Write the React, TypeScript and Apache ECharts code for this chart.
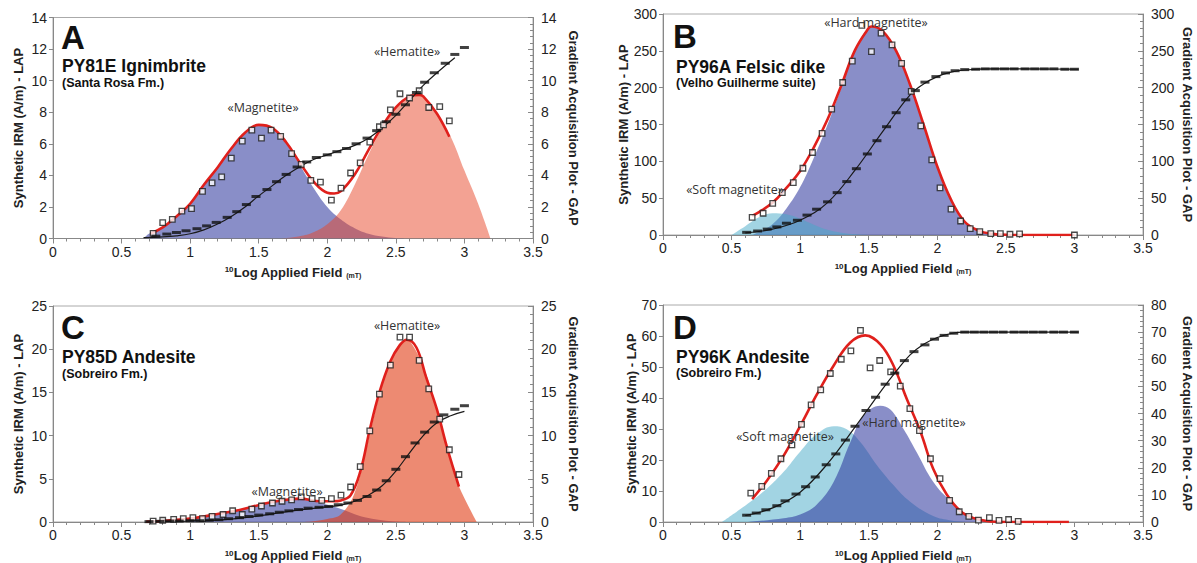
import React, { useEffect, useRef } from "react";
import * as echarts from "echarts";

// ---------- Panel A : PY81E Ignimbrite ----------
const aMagnetite = [[0.66,0],[0.7,0.3],[0.8,0.7],[0.9,1.4],[1.0,2.2],[1.1,3.4],[1.2,4.5],[1.3,5.7],[1.4,6.7],[1.5,7.2],[1.6,7.0],[1.7,6.05],[1.8,4.65],[1.9,3.2],[2.0,2.0],[2.1,1.2],[2.2,0.65],[2.3,0.3],[2.4,0.12],[2.5,0.03],[2.6,0]];
const aHematite = [[1.65,0],[1.8,0.15],[1.9,0.4],[2.0,0.9],[2.1,1.8],[2.2,3.4],[2.3,5.3],[2.4,7.0],[2.5,8.25],[2.6,8.95],[2.67,9.1],[2.7,9.0],[2.8,7.9],[2.9,6.45],[3.0,4.3],[3.1,2.2],[3.19,0]];
const aFit = [[0.71,0.3],[0.8,0.7],[0.9,1.4],[1.0,2.2],[1.1,3.4],[1.2,4.5],[1.3,5.7],[1.4,6.7],[1.5,7.2],[1.6,7.0],[1.7,6.1],[1.8,4.8],[1.9,3.6],[2.0,2.9],[2.05,2.85],[2.1,3.0],[2.2,4.05],[2.3,5.6],[2.4,7.1],[2.5,8.3],[2.6,9.0],[2.67,9.1],[2.7,9.0],[2.8,7.9],[2.89,6.45]];
const aLap = [[0.73,0.32],[0.8,1.0],[0.87,1.21],[0.94,1.74],[1.01,1.89],[1.09,2.98],[1.16,3.53],[1.23,3.91],[1.3,5.09],[1.38,6.17],[1.45,6.87],[1.52,6.36],[1.59,6.87],[1.66,6.47],[1.74,5.38],[1.81,4.7],[1.88,3.68],[1.95,3.57],[2.03,2.43],[2.1,3.19],[2.17,4.15],[2.24,4.79],[2.31,6.1],[2.38,7.08],[2.41,7.2],[2.46,8.15],[2.53,9.17],[2.6,8.9],[2.67,9.36],[2.74,8.3],[2.82,8.36],[2.89,7.45]];
const aGap = [[0.75,0.15],[0.83,0.28],[0.9,0.38],[0.97,0.49],[1.05,0.62],[1.12,0.8],[1.19,1.02],[1.27,1.34],[1.34,1.7],[1.41,2.15],[1.48,2.66],[1.56,3.1],[1.63,3.6],[1.7,4.06],[1.78,4.53],[1.85,4.85],[1.92,5.13],[2.0,5.3],[2.07,5.5],[2.14,5.7],[2.21,6.0],[2.29,6.36],[2.36,6.83],[2.43,7.4],[2.5,7.87],[2.57,8.47],[2.65,9.25],[2.71,9.9],[2.78,10.5],[2.86,11.1],[2.93,11.66],[3.0,12.1]];
const aGapFit = [[0.66,0.05],[0.8,0.1],[0.9,0.17],[1.0,0.3],[1.1,0.55],[1.2,0.92],[1.3,1.4],[1.4,2.0],[1.5,2.7],[1.6,3.35],[1.7,4.0],[1.8,4.55],[1.9,5.0],[2.0,5.3],[2.1,5.6],[2.2,5.9],[2.3,6.35],[2.4,7.0],[2.5,7.8],[2.6,8.75],[2.7,9.7],[2.8,10.5],[2.93,11.45]];

// ---------- Panel B : PY96A Felsic dike ----------
const bSoft = [[0.5,0],[0.6,12],[0.7,24],[0.8,29.5],[0.9,28],[1.0,22],[1.1,14],[1.2,7],[1.3,3],[1.4,1],[1.5,0]];
const bHard = [[0.65,0],[0.7,4],[0.8,15],[0.9,36],[1.0,65],[1.1,105],[1.2,150],[1.3,200],[1.4,250],[1.5,281],[1.55,283],[1.6,277],[1.7,250],[1.8,205],[1.9,150],[2.0,93],[2.1,48],[2.2,18],[2.3,6],[2.4,1.5],[2.5,0.3],[2.6,0]];
const bFit = [[0.65,26],[0.7,31],[0.8,44],[0.9,64],[1.0,87],[1.1,119],[1.2,157],[1.3,203],[1.4,251],[1.5,281],[1.52,283],[1.6,277],[1.7,250],[1.8,205],[1.9,150],[2.0,93],[2.1,48],[2.2,18],[2.3,6],[2.4,1.5],[2.5,0.3],[2.6,0],[3.0,0]];
const bLap = [[0.65,24],[0.73,29.5],[0.8,43],[0.87,57.5],[0.95,71],[1.02,90.6],[1.09,112],[1.16,138],[1.23,171],[1.31,207],[1.38,236],[1.45,284.5],[1.52,249],[1.59,274],[1.67,258],[1.74,233],[1.81,195],[1.88,148],[1.96,102],[2.02,64],[2.1,35],[2.17,19],[2.24,8.6],[2.31,4.5],[2.39,2],[2.46,1.8],[2.53,1],[2.6,1.4],[3.0,0]];
const bGap = [[0.61,3.6],[0.69,5.4],[0.76,8],[0.83,11],[0.9,16],[0.98,20],[1.05,27],[1.12,35],[1.2,45],[1.27,57.5],[1.34,72.5],[1.41,90],[1.49,110],[1.56,128],[1.63,147],[1.7,166],[1.77,183.5],[1.84,196],[1.91,207.5],[1.99,215],[2.06,220],[2.13,223],[2.2,224.5],[2.28,225],[2.35,225.5],[2.42,225.5],[2.49,225.5],[2.56,225.5],[2.64,225.5],[2.71,225.5],[2.78,225.5],[2.85,225.5],[2.93,225],[3.0,225]];
const bGapFit = [[0.6,3],[0.8,8],[1.0,20],[1.2,44],[1.4,88],[1.6,140],[1.8,190],[1.9,205],[2.0,215],[2.1,221],[2.2,224],[2.4,225.5],[3.03,225]];

// ---------- Panel C : PY85D Andesite ----------
const cMagnetite = [[0.65,0],[0.8,0.1],[1.0,0.35],[1.2,0.9],[1.4,1.55],[1.6,2.25],[1.7,2.5],[1.8,2.6],[1.9,2.4],[2.0,2.0],[2.1,1.5],[2.2,0.9],[2.3,0.45],[2.4,0.2],[2.5,0.05],[2.6,0]];
const cHematite = [[1.8,0],[1.9,0.1],[2.0,0.35],[2.1,0.9],[2.2,3.4],[2.3,9.5],[2.4,15.8],[2.5,19.75],[2.58,21.1],[2.6,21.0],[2.7,18.0],[2.8,13.0],[2.9,7.0],[2.96,4.1],[3.09,0]];
const cFit = [[0.68,0.04],[0.8,0.12],[1.0,0.4],[1.19,0.9],[1.36,1.4],[1.51,2.0],[1.65,2.45],[1.8,2.7],[1.95,2.4],[2.04,2.4],[2.1,2.5],[2.17,3.1],[2.24,5.8],[2.31,10.7],[2.38,15.0],[2.46,18.6],[2.53,20.5],[2.58,21.1],[2.65,20.2],[2.72,16.8],[2.8,13.0],[2.87,8.8],[2.96,4.1]];
const cLap = [[0.73,0.1],[0.8,0.2],[0.88,0.3],[0.95,0.4],[1.02,0.5],[1.09,0.4],[1.16,0.65],[1.24,0.87],[1.31,1.3],[1.38,0.87],[1.45,1.5],[1.52,1.85],[1.6,2.2],[1.67,2.4],[1.74,2.55],[1.81,2.9],[1.89,2.7],[1.96,2.5],[2.03,2.7],[2.1,3.1],[2.17,4.05],[2.24,6.4],[2.31,10.55],[2.38,14.8],[2.46,18.15],[2.53,21.4],[2.6,21.4],[2.67,18.7],[2.74,15.4],[2.82,11.9],[2.89,8.36],[2.96,5.5]];
const cGap = [[0.7,0.04],[0.78,0.08],[0.85,0.11],[0.92,0.11],[1.0,0.15],[1.07,0.15],[1.14,0.2],[1.21,0.26],[1.28,0.38],[1.36,0.5],[1.43,0.64],[1.5,0.8],[1.58,0.95],[1.65,1.13],[1.72,1.29],[1.79,1.44],[1.86,1.6],[1.94,1.7],[2.01,1.8],[2.08,2.0],[2.15,2.2],[2.22,2.5],[2.29,2.95],[2.36,3.7],[2.43,4.77],[2.5,6.1],[2.57,7.56],[2.64,9.15],[2.71,10.4],[2.78,11.57],[2.85,12.4],[2.93,13.05],[3.0,13.46]];
const cGapFit = [[0.68,0],[1.0,0.12],[1.2,0.22],[1.4,0.5],[1.6,0.95],[1.8,1.4],[2.0,1.75],[2.1,1.95],[2.2,2.4],[2.3,3.1],[2.4,4.2],[2.5,5.9],[2.6,8.0],[2.7,10.0],[2.8,11.5],[2.9,12.3],[3.0,12.8]];

// ---------- Panel D : PY96K Andesite ----------
const dSoft = [[0.43,0],[0.64,6.6],[0.76,10.9],[0.88,16.2],[1.0,22.7],[1.12,28.3],[1.245,30.9],[1.34,29.9],[1.44,25.7],[1.56,18.3],[1.68,11.9],[1.8,6.6],[1.97,1.9],[2.1,0.5],[2.24,0]];
const dHard = [[0.61,0],[0.88,1.2],[1.0,2.4],[1.12,5.6],[1.245,13],[1.366,25.7],[1.46,34.1],[1.585,37.5],[1.66,36.2],[1.755,29.9],[1.85,22.5],[1.97,13],[2.1,6.6],[2.22,2.4],[2.34,0.7],[2.48,0]];
const dFit = [[0.65,7.4],[0.76,13.5],[0.88,21.4],[1.0,30.9],[1.12,41],[1.245,50.5],[1.366,57.9],[1.475,60.2],[1.585,57.3],[1.68,50.5],[1.78,39.4],[1.88,28.8],[1.97,17.2],[2.07,8.8],[2.17,3.5],[2.27,1.2],[2.36,0.3],[2.5,0],[2.96,0]];
const dLap = [[0.64,9.3],[0.72,11.5],[0.79,15.7],[0.86,20.4],[0.94,24.9],[1.01,31.5],[1.08,37.8],[1.15,42.6],[1.22,47.9],[1.3,52.5],[1.37,55.2],[1.44,61.8],[1.51,49.7],[1.58,52.1],[1.66,48.4],[1.73,43.8],[1.8,36.6],[1.87,29.5],[1.95,20.4],[2.02,14.0],[2.09,7.0],[2.16,3.3],[2.23,1.8],[2.3,0.6],[2.38,1.4],[2.45,0.5],[2.52,0.8],[2.59,0.2]];
const dGap = [[0.61,2.5],[0.68,3.3],[0.75,4.5],[0.83,6.0],[0.89,7.8],[0.97,10.3],[1.04,13.0],[1.11,16.6],[1.19,21.1],[1.26,25.1],[1.33,30.2],[1.4,35.3],[1.48,41.1],[1.55,46.0],[1.62,50.8],[1.69,54.9],[1.76,59.5],[1.83,62.8],[1.91,65.3],[1.98,67.4],[2.05,68.8],[2.12,69.6],[2.2,70],[2.27,70],[2.34,70],[2.41,70],[2.48,70],[2.56,70],[2.63,70],[2.7,70],[2.77,70],[2.85,70],[2.92,70],[3.0,70]];
const dGapFit = [[0.6,2.4],[0.8,5.2],[1.0,11],[1.2,21.5],[1.4,35],[1.5,42],[1.6,49],[1.7,55.5],[1.8,61.5],[1.9,65.5],[2.0,68],[2.1,69.5],[2.2,70],[3.03,70]];

// axis ranges
const xTicks = { min: 0, max: 3.5, interval: 0.5 };
const leftRanges = [
  { max: 14, interval: 2 },
  { max: 300, interval: 50 },
  { max: 25, interval: 5 },
  { max: 70, interval: 10 },
];
const rightRanges = [
  { max: 14, interval: 2 },
  { max: 300, interval: 50 },
  { max: 25, interval: 5 },
  { max: 80, interval: 10 },
];

const BLUE = "rgba(40,50,155,0.55)";
const CYAN = "rgba(70,170,200,0.5)";
const SALMON_A = "rgba(232,70,40,0.5)";
const SALMON_C = "rgba(225,60,20,0.6)";
const RED = "#e0201c";

const FONT = '"Liberation Sans", Arial, sans-serif';

export default function App() {
  const ref = useRef<HTMLDivElement>(null);

  useEffect(() => {
    if (!ref.current) return;
    const chart = echarts.init(ref.current, null, { renderer: "svg" });

    const grids = [
      { left: 53, top: 17.5, width: 480, height: 221 },
      { left: 663, top: 14, width: 480, height: 221 },
      { left: 53, top: 306, width: 480, height: 220 },
      { left: 663, top: 305, width: 480, height: 220 },
    ];
    const leftGaps = [28, 29, 28, 25];
    const rightGaps = [34, 38, 34, 38];

    const axisLabel = { fontSize: 14, color: "#222", fontFamily: FONT };
    const nameStyle = { fontSize: 13, fontWeight: "bold" as const, color: "#222", fontFamily: FONT };

    const xAxes = grids.map((_, i) => ({
      type: "value",
      gridIndex: i,
      ...xTicks,
      name: "{sup|10}Log Applied Field {sub|(mT)}",
      nameLocation: "middle",
      nameGap: 27,
      nameTextStyle: {
        ...nameStyle,
        rich: {
          sup: { fontSize: 8, fontWeight: "bold", verticalAlign: "top", fontFamily: FONT, color: "#222" },
          sub: { fontSize: 7, fontWeight: "bold", verticalAlign: "bottom", fontFamily: FONT, color: "#222", padding: [6, 0, 0, 0] },
        },
      },
      axisLine: { show: true, lineStyle: { color: "#888", width: 1 } },
      axisTick: { show: true, inside: false, length: 5, lineStyle: { color: "#888" } },
      minorTick: { show: true, splitNumber: 5, length: 3, lineStyle: { color: "#888" } },
      splitLine: { show: false },
      axisLabel: { ...axisLabel, margin: 6 },
    }));

    const yAxes: any[] = [];
    grids.forEach((_, i) => {
      yAxes.push({
        type: "value",
        gridIndex: i,
        position: "left",
        min: 0,
        ...leftRanges[i],
        name: "Synthetic IRM (A/m) - LAP",
        nameLocation: "middle",
        nameGap: leftGaps[i],
        nameTextStyle: nameStyle,
        axisLine: { show: true, lineStyle: { color: "#888" } },
        axisTick: { show: true, length: 4, lineStyle: { color: "#888" } },
        splitLine: { show: false },
        axisLabel: { ...axisLabel, margin: 6 },
      });
      yAxes.push({
        type: "value",
        gridIndex: i,
        position: "right",
        min: 0,
        ...rightRanges[i],
        name: "Gradient Acquisition Plot - GAP",
        nameLocation: "middle",
        nameRotate: -90,
        nameGap: rightGaps[i],
        nameTextStyle: nameStyle,
        axisLine: { show: true, lineStyle: { color: "#888" } },
        axisTick: { show: true, inside: true, length: 5, lineStyle: { color: "#888" } },
        minorTick: { show: true, splitNumber: 5, length: 3, lineStyle: { color: "#888" } },
        splitLine: { show: false },
        axisLabel: { ...axisLabel, margin: 8 },
      });
    });

    const area = (data: number[][], i: number, color: string) => ({
      type: "line",
      xAxisIndex: i,
      yAxisIndex: i * 2,
      data,
      smooth: 0.4,
      symbol: "none",
      lineStyle: { width: 0, opacity: 0 },
      areaStyle: { color, opacity: 1 },
      silent: true,
      z: 1,
    });
    const fit = (data: number[][], i: number) => ({
      type: "line",
      xAxisIndex: i,
      yAxisIndex: i * 2,
      data,
      smooth: 0.4,
      symbol: "none",
      lineStyle: { width: 2.6, color: RED },
      silent: true,
      z: 3,
    });
    const gapFit = (data: number[][], i: number) => ({
      type: "line",
      xAxisIndex: i,
      yAxisIndex: i * 2 + 1,
      data,
      smooth: 0.4,
      symbol: "none",
      lineStyle: { width: 1.2, color: "#1a1a1a" },
      silent: true,
      z: 4,
    });
    const lap = (data: number[][], i: number) => ({
      type: "scatter",
      xAxisIndex: i,
      yAxisIndex: i * 2,
      data,
      symbol: "rect",
      symbolSize: 5.5,
      itemStyle: { color: "#ffffff", borderColor: "#1a1a1a", borderWidth: 1.3 },
      silent: true,
      z: 5,
    });
    const gap = (data: number[][], i: number) => ({
      type: "scatter",
      xAxisIndex: i,
      yAxisIndex: i * 2 + 1,
      data,
      symbol: "rect",
      symbolSize: [9, 3],
      itemStyle: { color: "#111" },
      silent: true,
      z: 6,
    });

    const series = [
      area(aMagnetite, 0, BLUE), area(aHematite, 0, SALMON_A), fit(aFit, 0), gapFit(aGapFit, 0), lap(aLap, 0), gap(aGap, 0),
      area(bHard, 1, BLUE), area(bSoft, 1, CYAN), fit(bFit, 1), gapFit(bGapFit, 1), lap(bLap, 1), gap(bGap, 1),
      area(cMagnetite, 2, BLUE), area(cHematite, 2, SALMON_C), fit(cFit, 2), gapFit(cGapFit, 2), lap(cLap, 2), gap(cGap, 2),
      area(dSoft, 3, CYAN), area(dHard, 3, BLUE), fit(dFit, 3), gapFit(dGapFit, 3), lap(dLap, 3), gap(dGap, 3),
    ];

    const txt = (x: number, y: number, text: string, font: string, align = "left", fill = "#111") => ({
      type: "text",
      x,
      y,
      z: 100,
      silent: true,
      style: { text, font, fill, align, verticalAlign: "middle" },
    });
    const letterFont = `bold 33px ${FONT}`;
    const titleFont = `bold 17.5px ${FONT}`;
    const subFont = `bold 12.5px ${FONT}`;
    const noteFont = `12.5px "Open Sans", sans-serif`;

    const graphic = [
      txt(61, 37, "A", letterFont), txt(62, 66, "PY81E Ignimbrite", titleFont), txt(62, 83, "(Santa Rosa Fm.)", subFont),
      txt(263, 107, "«Magnetite»", noteFont, "center", "#333"), txt(407, 51, "«Hematite»", noteFont, "center", "#333"),
      txt(673, 36, "B", letterFont), txt(676, 67, "PY96A Felsic dike", titleFont), txt(676, 83, "(Velho Guilherme suite)", subFont),
      txt(876, 22, "«Hard magnetite»", noteFont, "center", "#333"), txt(735, 189, "«Soft magnetite»", noteFont, "center", "#333"),
      txt(61, 327, "C", letterFont), txt(62, 357, "PY85D Andesite", titleFont), txt(62, 374, "(Sobreiro Fm.)", subFont),
      txt(287, 491, "«Magnetite»", noteFont, "center", "#333"), txt(407, 325, "«Hematite»", noteFont, "center", "#333"),
      txt(673, 327, "D", letterFont), txt(676, 357, "PY96K Andesite", titleFont), txt(676, 373, "(Sobreiro Fm.)", subFont),
      txt(914, 422, "«Hard magnetite»", noteFont, "center", "#333"), txt(785, 436, "«Soft magnetite»", noteFont, "center", "#333"),
    ];

    chart.setOption({
      animation: false,
      backgroundColor: "#ffffff",
      grid: grids.map((g) => ({ ...g, show: true, borderColor: "#aaa", borderWidth: 1, backgroundColor: "transparent" })),
      xAxis: xAxes,
      yAxis: yAxes,
      series,
      graphic,
    });

    return () => chart.dispose();
  }, []);

  return (
    <div
      ref={ref}
      style={{ position: "fixed", left: 0, top: 0, width: "1197px", height: "563px", background: "#fff" }}
    />
  );
}
